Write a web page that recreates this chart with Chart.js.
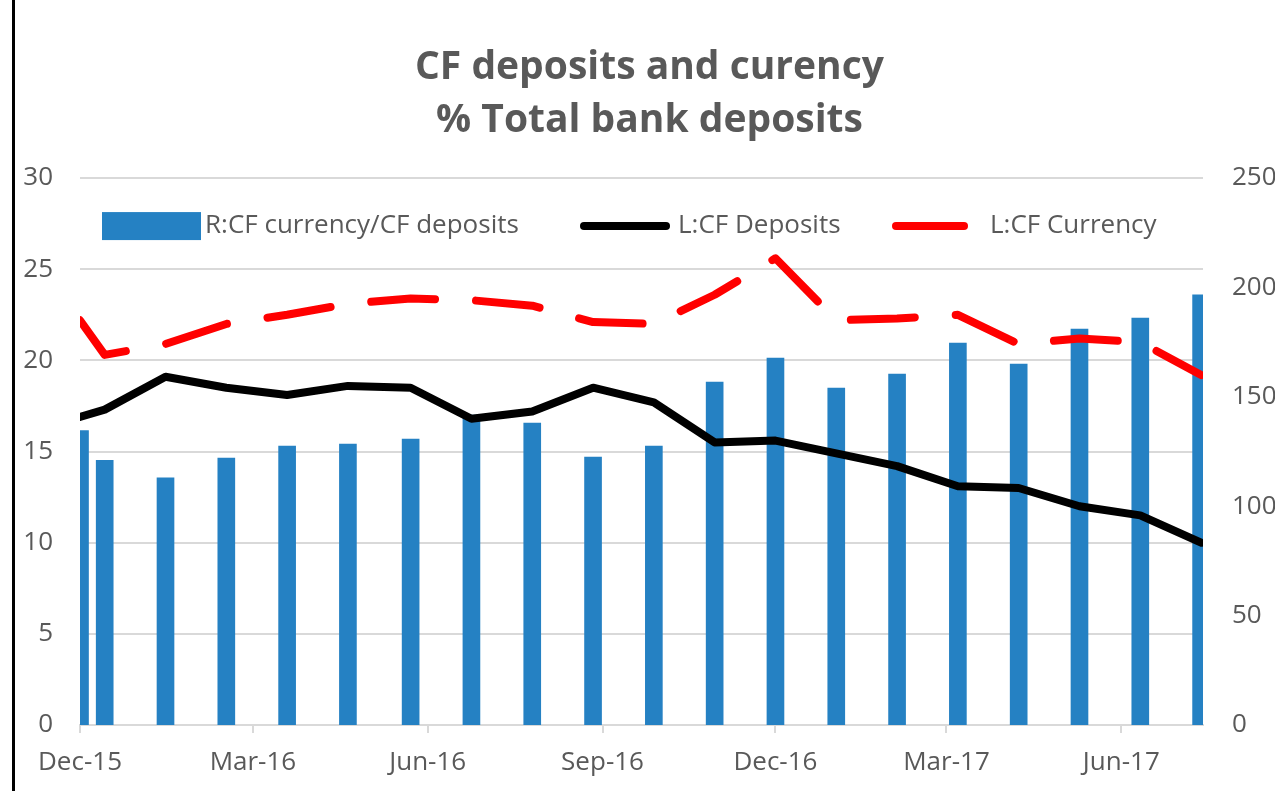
<!DOCTYPE html>
<html>
<head>
<meta charset="utf-8">
<title>CF deposits and curency</title>
<script src="https://cdn.jsdelivr.net/npm/chart.js@4.4.1/dist/chart.umd.min.js"></script>
<style>
  html, body { margin: 0; padding: 0; background: #fff; }
  .wrap { position: relative; width: 1275px; height: 791px; overflow: hidden; }
  .frame { position: absolute; left: 12px; top: 0; width: 3px; height: 791px; background: #000; }
  canvas { display: block; }
</style>
</head>
<body>
<div class="wrap">
  <canvas id="chart" width="1275" height="791"></canvas>
  <div class="frame"></div>
</div>
<script>
// observation dates (as plotted on the date axis)
const dates = [
  '2015-12-01', '2015-12-14', '2016-01-15', '2016-02-16', '2016-03-19',
  '2016-04-20', '2016-05-23', '2016-06-24', '2016-07-26', '2016-08-27',
  '2016-09-28', '2016-10-30', '2016-12-01', '2017-01-02', '2017-02-03',
  '2017-03-07', '2017-04-08', '2017-05-10', '2017-06-11', '2017-07-13'
];
// R: CF currency / CF deposits (right axis)
const currencyToDeposits = [
  134.6, 121.0, 113.0, 122.0, 127.5, 128.4, 130.7, 141.7, 138.0, 122.5,
  127.5, 156.8, 167.7, 154.0, 160.4, 174.6, 165.0, 181.0, 186.0, 196.6
];
// L: CF deposits, % of total bank deposits
const cfDeposits = [
  16.9, 17.3, 19.1, 18.5, 18.1, 18.6, 18.5, 16.8, 17.2, 18.5,
  17.7, 15.5, 15.6, 14.9, 14.2, 13.1, 13.0, 12.0, 11.5, 10.0
];
// L: CF currency, % of total bank deposits
const cfCurrency = [
  22.2, 20.3, 20.9, 22.0, 22.5, 23.1, 23.4, 23.3, 23.0, 22.1,
  22.0, 23.6, 25.6, 22.2, 22.3, 22.5, 20.9, 21.2, 21.0, 19.2
];
const tickDates = ['2015-12-01', '2016-03-01', '2016-06-01', '2016-09-01', '2016-12-01', '2017-03-01', '2017-06-01'];
const tickLabels = ['Dec-15', 'Mar-16', 'Jun-16', 'Sep-16', 'Dec-16', 'Mar-17', 'Jun-17'];
const axisStart = '2015-12-01';
const axisEnd = '2017-07-14';

const DAY = 86400000;
function dayOf(iso) {
  const [y, m, d] = iso.split('-').map(Number);
  const [y0, m0, d0] = axisStart.split('-').map(Number);
  return (Date.UTC(y, m - 1, d) - Date.UTC(y0, m0 - 1, d0)) / DAY;
}
const xs = dates.map(dayOf);
const tickDays = tickDates.map(dayOf);

const GREY = '#595959';
const FONT = '"Open Sans", Lato, sans-serif';

// legend drawn inside the plot area, like the Excel original
const insideLegend = {
  id: 'insideLegend',
  afterDraw(chart, args, opts) {
    const { ctx, chartArea } = chart;
    const y = chartArea.top + opts.offsetY;
    ctx.save();
    ctx.font = opts.font;
    ctx.textBaseline = 'middle';
    opts.items.forEach(item => {
      const ds = chart.data.datasets[item.index];
      const x = chartArea.left + item.x;
      if (ds.type === 'line') {
        ctx.beginPath();
        ctx.strokeStyle = ds.borderColor;
        ctx.lineWidth = ds.borderWidth;
        ctx.lineCap = 'round';
        ctx.moveTo(x, y);
        ctx.lineTo(x + item.w, y);
        ctx.stroke();
      } else {
        ctx.fillStyle = ds.backgroundColor;
        ctx.fillRect(x, y - 14, item.w, 28);
      }
      ctx.fillStyle = opts.color;
      ctx.fillText(ds.label, x + item.w + item.gap, y);
    });
    ctx.restore();
  }
};

const ctx = document.getElementById('chart').getContext('2d');
new Chart(ctx, {
  type: 'bar',
  data: {
    datasets: [
      {
        type: 'line',
        label: 'L:CF Deposits',
        data: xs.map((x, i) => ({ x: x, y: cfDeposits[i] })),
        yAxisID: 'y',
        borderColor: '#000000',
        borderWidth: 8,
        borderJoinStyle: 'round',
        borderCapStyle: 'round',
        pointRadius: 0,
        tension: 0,
        order: 1
      },
      {
        type: 'line',
        label: 'L:CF Currency',
        data: xs.map((x, i) => ({ x: x, y: cfCurrency[i] })),
        yAxisID: 'y',
        borderColor: '#ff0000',
        borderWidth: 8,
        borderDash: [64, 41],
        borderJoinStyle: 'round',
        borderCapStyle: 'round',
        pointRadius: 0,
        tension: 0,
        order: 0
      },
      {
        type: 'bar',
        label: 'R:CF currency/CF deposits',
        data: xs.map((x, i) => ({ x: x, y: currencyToDeposits[i] })),
        yAxisID: 'y1',
        backgroundColor: '#2581c3',
        barThickness: 17,
        clip: 0,
        order: 2
      }
    ]
  },
  options: {
    responsive: false,
    animation: false,
    layout: { padding: { left: 24, right: 0, top: 0, bottom: 0 } },
    scales: {
      x: {
        type: 'linear',
        min: 0,
        max: dayOf(axisEnd),
        offset: false,
        afterFit: scale => { scale.height = 66; },
        afterBuildTicks: scale => { scale.ticks = tickDays.map(v => ({ value: v })); },
        grid: {
          offset: false,
          drawOnChartArea: false,
          drawTicks: true,
          tickLength: 8,
          color: '#d9d9d9',
          lineWidth: 2
        },
        border: { display: true, color: '#d9d9d9', width: 2 },
        ticks: {
          autoSkip: false,
          maxRotation: 0,
          padding: 14,
          color: GREY,
          font: { family: FONT, size: 26 },
          callback: value => tickLabels[tickDays.indexOf(value)] || ''
        }
      },
      y: {
        position: 'left',
        min: 0,
        max: 30,
        afterFit: scale => { scale.width = 56; },
        grid: { color: '#d9d9d9', lineWidth: 2, drawTicks: false },
        border: { display: false },
        ticks: { stepSize: 5, padding: 27, color: GREY, font: { family: FONT, size: 26 } }
      },
      y1: {
        position: 'right',
        min: 0,
        max: 250,
        afterFit: scale => { scale.width = 72; },
        grid: { display: false, drawOnChartArea: false },
        border: { display: false },
        ticks: { stepSize: 50, padding: 21, color: GREY, font: { family: FONT, size: 26 } }
      }
    },
    plugins: {
      legend: { display: false },
      tooltip: { enabled: false },
      title: {
        display: true,
        text: ['CF deposits and curency', '% Total bank deposits'],
        color: GREY,
        font: { family: FONT, size: 39, weight: 'bold', lineHeight: 1.36 },
        padding: { top: 41, bottom: 31 }
      },
      insideLegend: {
        offsetY: 48,
        font: '26px ' + FONT,
        color: GREY,
        items: [
          { index: 2, x: 22, w: 99, gap: 4 },
          { index: 0, x: 504, w: 82, gap: 12 },
          { index: 1, x: 816, w: 68, gap: 26 }
        ]
      }
    }
  },
  plugins: [insideLegend]
});
</script>
</body>
</html>
